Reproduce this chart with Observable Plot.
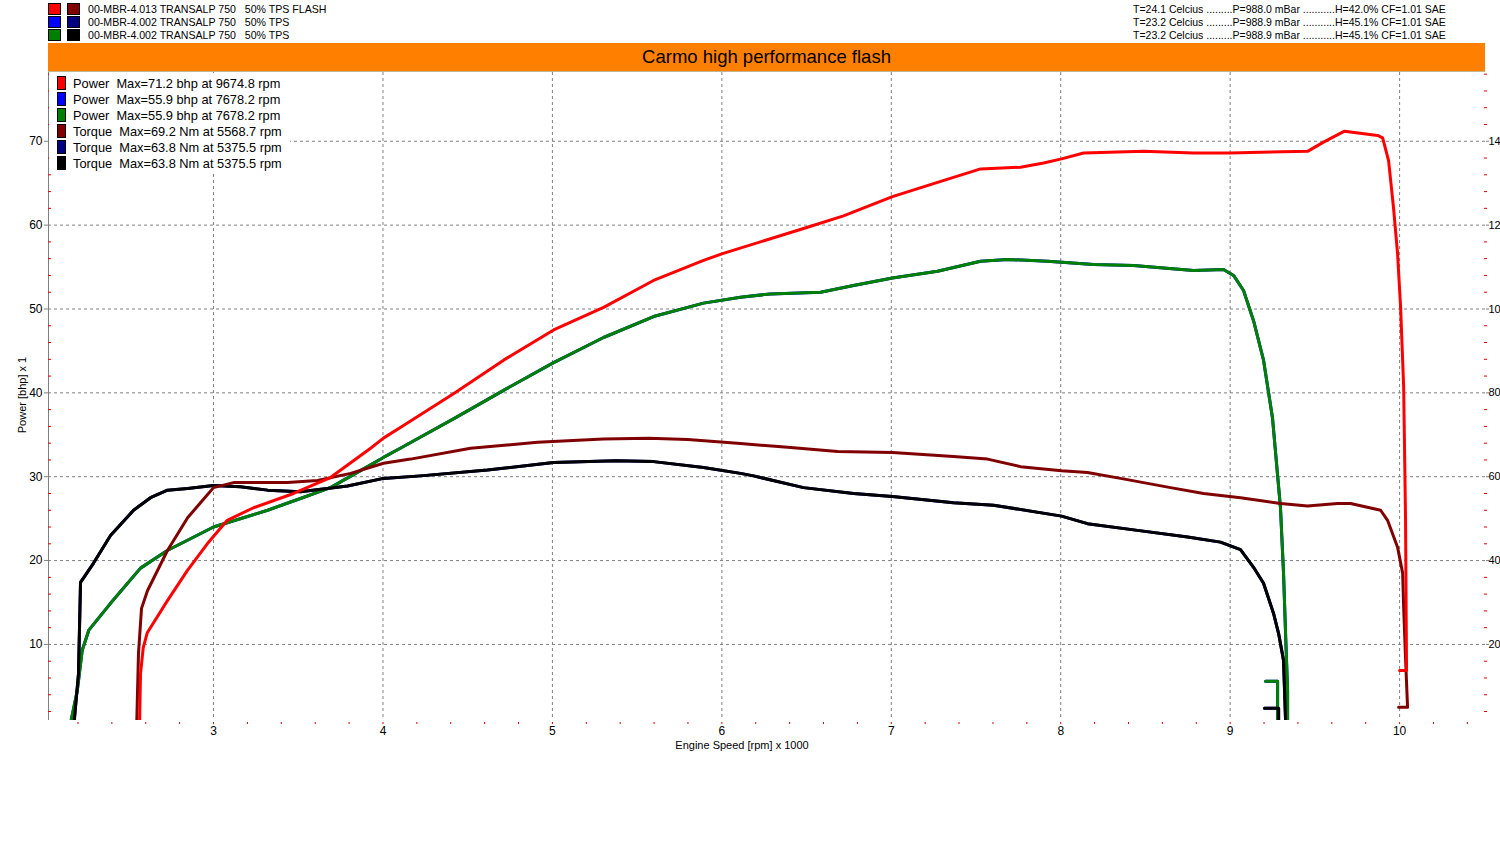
<!DOCTYPE html>
<html><head><meta charset="utf-8">
<script src="https://cdn.jsdelivr.net/npm/d3@7"></script>
<script src="https://cdn.jsdelivr.net/npm/@observablehq/plot@0.6"></script>
<style>
body{margin:0;background:#fff;font-family:"Liberation Sans",Arial,sans-serif;color:#000}
#wrap{position:relative;width:1500px;height:850px;overflow:hidden}
#chart{position:absolute;left:0;top:0}
.abs{position:absolute;white-space:pre;line-height:1}
.sw{position:absolute;box-sizing:border-box;border:1px solid #000}
</style></head><body>
<div id="wrap"><div id="chart"></div><div id="overlay"></div></div>
<script>
// ---------- texts ----------
const runNames = [
  "00-MBR-4.013 TRANSALP 750   50% TPS FLASH",
  "00-MBR-4.002 TRANSALP 750   50% TPS",
  "00-MBR-4.002 TRANSALP 750   50% TPS"
];
const runConditions = [
  "T=24.1 Celcius .........P=988.0 mBar ...........H=42.0% CF=1.01 SAE",
  "T=23.2 Celcius .........P=988.9 mBar ...........H=45.1% CF=1.01 SAE",
  "T=23.2 Celcius .........P=988.9 mBar ...........H=45.1% CF=1.01 SAE"
];
const powerColors = ["#ff0000", "#0000ff", "#008000"];
const torqueColors = ["#800000", "#000080", "#000000"];
const legendLabels = [
  "Power  Max=71.2 bhp at 9674.8 rpm",
  "Power  Max=55.9 bhp at 7678.2 rpm",
  "Power  Max=55.9 bhp at 7678.2 rpm",
  "Torque  Max=69.2 Nm at 5568.7 rpm",
  "Torque  Max=63.8 Nm at 5375.5 rpm",
  "Torque  Max=63.8 Nm at 5375.5 rpm"
];
const chartTitle = "Carmo high performance flash";
const xTitle = "Engine Speed [rpm] x 1000";
const yTitle = "Power [bhp] x 1";

// ---------- axes ----------
const xTicks = [3, 4, 5, 6, 7, 8, 9, 10];
const xMinorTicks = d3.range(22, 105, 2).map(d => d / 10);
const yTicks = [10, 20, 30, 40, 50, 60, 70];
const yMinorTicks = d3.range(2, 79, 2).filter(d => d % 10 !== 0);
const rightTickLabels = ["20", "40", "60", "80", "10", "12", "14"];
const xDomain = [2.026, 10.507];
const yDomain = [0.93, 78.2];
const torqueToPowerAxis = 0.5; // right axis (Nm) = 2 x left axis

// ---------- data: run 1 (FLASH) ----------
const flashPowerRpm = [2563,2569,2585,2609,2727,2845,2963,3081,3236,3472,3690,3927,4003,4121,4416,4712,5007,5302,5597,5892,6004,6482,6718,7007,7273,7527,7763,7899,8005,8135,8489,8784,9002,9179,9457,9551,9675,9870,9900,9935,9964,9988,10006,10024,10035,10041,10000];
const flashPowerBhp = [0,6.5,9.6,11.4,15.2,18.8,22.0,24.8,26.3,28.0,29.9,33.4,34.6,36.1,39.9,43.9,47.5,50.2,53.4,55.8,56.6,59.6,61.1,63.4,65.1,66.7,66.9,67.4,67.9,68.6,68.8,68.6,68.6,68.7,68.8,69.9,71.2,70.7,70.4,67.7,62.1,56.6,50.2,40.7,25.1,6.9,6.9];
const flashTorqueRpm = [2546,2557,2575,2610,2728,2847,2923,3000,3118,3437,3614,3809,4003,4163,4517,4912,5302,5569,5798,6110,6388,6683,7007,7367,7568,7763,8005,8158,8353,8648,8843,9061,9297,9457,9634,9711,9888,9929,9988,10018,10024,10035,10047,9994];
const flashTorqueNm = [0,17.8,28.6,32.8,42.4,50.2,53.8,57.4,58.6,58.6,59.1,60.8,63.2,64.2,66.8,68.2,69.0,69.2,68.9,67.9,67.0,66.0,65.8,64.8,64.2,62.4,61.4,61.0,59.6,57.4,56.0,55.0,53.6,53.0,53.6,53.6,52.0,49.6,43.2,37.0,28.8,16.8,5.0,5.0];

// ---------- data: runs 2 & 3 (same file 00-MBR-4.002) ----------
const stockPowerRpm = [2150,2196,2225,2264,2392,2569,2727,3000,3319,3513,3690,3909,4003,4121,4416,4712,5007,5302,5597,5892,6110,6287,6583,6777,7007,7273,7527,7686,7923,8194,8430,8784,8961,9020,9079,9138,9197,9250,9297,9315,9327,9339,9339,9280,9280,9209];
const stockPowerBhp = [0,4.5,9.3,11.7,14.9,19.1,21.2,24.0,26.0,27.4,28.7,31.2,32.3,33.6,36.9,40.3,43.6,46.6,49.1,50.7,51.4,51.8,52.0,52.8,53.7,54.5,55.7,55.9,55.7,55.3,55.2,54.6,54.7,54.0,52.2,48.6,43.9,37.0,26.3,18.5,11.3,4.5,0,0,5.6,5.6];
const stockTorqueRpm = [2174,2203,2215,2292,2392,2528,2628,2728,2847,3000,3159,3319,3513,3791,4003,4222,4617,5007,5375,5597,5892,6110,6187,6482,6777,7007,7367,7604,8005,8158,8453,8749,8943,9061,9138,9197,9256,9286,9315,9327,9327,9286,9286,9203];
const stockTorqueNm = [0,13.0,34.8,39.4,46.0,52.0,55.0,56.8,57.2,57.9,57.6,56.8,56.4,57.8,59.6,60.2,61.6,63.4,63.8,63.6,62.2,60.8,60.2,57.4,56.0,55.3,53.8,53.2,50.6,48.8,47.2,45.6,44.4,42.6,38.4,34.6,27.4,22.6,16.2,1.9,0,0,4.8,4.8];

const toPoints = (rpm, vals, k = 1) => rpm.map((r, i) => ({x: r / 1000, y: vals[i] * k}));

const seriesList = [
  {pts: toPoints(stockPowerRpm, stockPowerBhp), color: powerColors[1]},
  {pts: toPoints(stockTorqueRpm, stockTorqueNm, torqueToPowerAxis), color: torqueColors[1]},
  {pts: toPoints(stockPowerRpm, stockPowerBhp), color: powerColors[2]},
  {pts: toPoints(stockTorqueRpm, stockTorqueNm, torqueToPowerAxis), color: torqueColors[2]},
  {pts: toPoints(flashTorqueRpm, flashTorqueNm, torqueToPowerAxis), color: torqueColors[0]},
  {pts: toPoints(flashPowerRpm, flashPowerBhp), color: powerColors[0]}
];

const rightLabelMap = new Map(yTicks.map((t, i) => [t, rightTickLabels[i]]));
const grid = {stroke: "#808080", strokeOpacity: 1, strokeDasharray: "3,3", strokeWidth: 1};

const chart = Plot.plot({
  width: 1500, height: 850,
  marginLeft: 48, marginRight: 15, marginTop: 72, marginBottom: 130,
  style: {fontFamily: "'Liberation Sans', Arial, sans-serif", fontSize: "12px", color: "#000", background: "transparent"},
  x: {domain: xDomain, label: null},
  y: {domain: yDomain, label: null},
  marks: [
    Plot.gridX(xTicks, grid),
    Plot.gridY(yTicks, grid),
    Plot.ruleX([xDomain[0]], {stroke: "#808080"}),
    Plot.axisY(yMinorTicks, {anchor: "left", tickSize: 3, dx: 3, stroke: "#e00000", tickFormat: () => "", label: null}),
    Plot.axisY(yTicks, {anchor: "left", tickSize: 4, tickPadding: 2, stroke: "#808080", fontSize: 12, tickFormat: d => `${d}`, label: null}),
    Plot.axisY(yMinorTicks, {anchor: "right", tickSize: 3, dx: -2, stroke: "#e00000", tickFormat: () => "", label: null}),
    Plot.axisY(yTicks, {anchor: "right", tickSize: 3, tickPadding: 0, stroke: "#808080", fontSize: 11, tickFormat: d => rightLabelMap.get(d), label: null}),
    Plot.axisX(xMinorTicks, {anchor: "bottom", tickSize: 2, dy: 2, stroke: "#e00000", tickFormat: () => "", label: null}),
    Plot.axisX(xTicks, {anchor: "bottom", tickSize: 0, tickPadding: 6, fontSize: 12, tickFormat: d => `${d}`, label: null}),
    ...seriesList.map(s => Plot.line(s.pts, {x: "x", y: "y", stroke: s.color, strokeWidth: 3, clip: true, curve: "linear"}))
  ]
});
document.getElementById("chart").appendChild(chart);

// ---------- HTML overlay: header, band, legend, titles ----------
const ov = document.getElementById("overlay");
function el(tag, css, text) {
  const e = document.createElement(tag);
  e.style.cssText = css;
  if (text != null) e.textContent = text;
  ov.appendChild(e);
  return e;
}
runNames.forEach((name, i) => {
  const top = 3 + 13 * i;
  el("div", `left:48px;top:${top}px;width:13px;height:12px;background:${powerColors[i]}`).className = "sw";
  el("div", `left:67px;top:${top}px;width:13px;height:12px;background:${torqueColors[i]}`).className = "sw";
  el("div", `left:88px;top:${top}px;font-size:10.6px;line-height:12px;`, name).className = "abs";
  el("div", `left:1133px;top:${top}px;font-size:10.5px;line-height:12px;`, runConditions[i]).className = "abs";
});
el("div", "position:absolute;left:48px;top:43px;width:1437px;height:28px;background:#ff8000;border-bottom:1px solid #c8b490;");
el("div", "position:absolute;left:48px;top:43px;width:1437px;height:28px;line-height:28px;text-align:center;font-size:18.5px;", chartTitle);
el("div", "position:absolute;left:49px;top:73px;width:241px;height:99px;background:#fff;");
legendLabels.forEach((lab, i) => {
  const c = i < 3 ? powerColors[i] : torqueColors[i - 3];
  el("div", `left:57px;top:${76 + 16 * i}px;width:9px;height:14px;background:${c}`).className = "sw";
  el("div", `left:73px;top:${76 + 16 * i}px;font-size:12.8px;line-height:15px;`, lab).className = "abs";
});
el("div", "position:absolute;left:600px;top:739px;width:284px;text-align:center;font-size:11px;line-height:12px;", xTitle);
el("div", "position:absolute;left:-78px;top:389px;width:200px;text-align:center;font-size:11px;line-height:12px;transform:rotate(-90deg);", yTitle);
</script>
</body></html>
